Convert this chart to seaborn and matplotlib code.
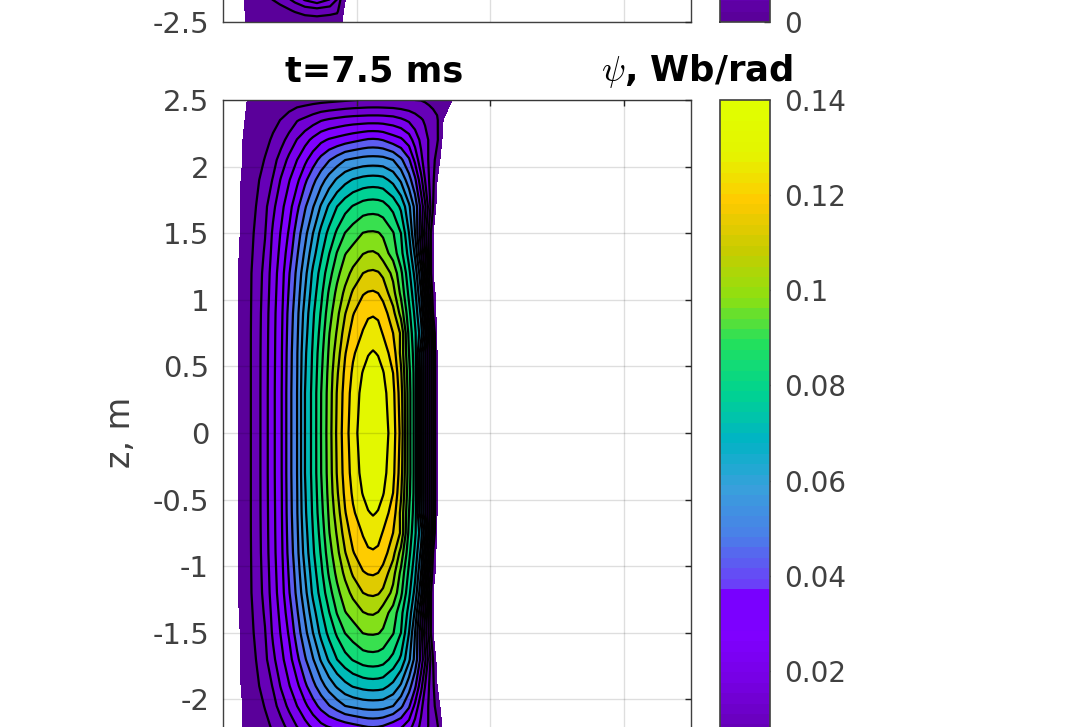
import numpy as np
import seaborn as sns
import matplotlib
matplotlib.use('Agg')
import matplotlib.pyplot as plt
from matplotlib.cm import ScalarMappable
from matplotlib.colors import ListedColormap, Normalize

# major radius (m) of the table columns
r_values = [0.075, 0.135, 0.195, 0.254, 0.314, 0.374, 0.434, 0.494, 0.554, 0.613, 0.673,
            0.733, 0.793, 0.853, 0.913, 0.972, 1.047, 1.085, 1.122, 1.160, 1.197, 1.272, 1.331, 1.391,
            1.436, 1.481, 1.511, 1.541, 1.571, 1.601, 1.646, 1.720, 1.795]
# z (m) of the table rows, the lower half is the mirror of this
z_values = [0.0, 0.3, 0.45, 0.6, 0.75, 0.9, 1.05, 1.2, 1.35, 1.5, 1.7, 1.9, 2.05, 2.2, 2.35, 2.5]

psi_half = [
    [-.003, .0016, .0059, .0108, .0182, .0263, .034, .0462, .056, .07, .0793, .091, .1015, .1134, .123, .1299, .137, .1389, .1395,
     .1389, .137, .1295, .1167, .094, .081, .0589, .0442, .0295, .0147, 0, -.004, -.008, -.01],
    [-.003, .0016, .0059, .0108, .0182, .0263, .034, .0462, .056, .07, .0793, .0908, .101, .1125, .122, .1287, .1354, .1374, .138,
     .1374, .1354, .128, .115, .094, .081, .0589, .0442, .0295, .0147, 0, -.004, -.008, -.01],
    [-.003, .0016, .0059, .0108, .0181, .0262, .0338, .0459, .0557, .0693, .0787, .0897, .1003, .111, .1206, .1272, .1335, .1354, .136,
     .1354, .1335, .126, .113, .093, .081, .0589, .0442, .0295, .0147, 0, -.004, -.008, -.01],
    [-.003, .0016, .0059, .0108, .018, .026, .0337, .0456, .0555, .0686, .0781, .0885, .099, .1086, .1185, .125, .13, .1326, .1335,
     .1326, .1298, .1228, .1102, .091, .080, .0582, .0436, .0291, .0145, 0, -.004, -.008, -.01],
    [-.003, .0016, .0059, .0107, .0178, .0259, .0334, .045, .0547, .0672, .077, .0866, .0975, .1058, .1153, .1219, .1265, .129, .1298,
     .1287, .1255, .119, .111, .089, .0783, .0662, .0508, .0315, .014, -.002, -.005, -.008, -.01],
    [-.003, .0016, .0058, .0106, .0175, .0257, .033, .0443, .0539, .0658, .0758, .0846, .095, .103, .1116, .1185, .1235, .1248, .1252,
     .1245, .1225, .1143, .1024, .086, .0753, .0613, .0443, .0257, .007, -.003, -.006, -.009, -.01],
    [-.003, .0016, .0057, .0104, .0168, .0251, .0323, .0428, .0523, .0632, .0736, .0822, .092, .0999, .1067, .1131, .1185, .1195, .1198,
     .119, .1165, .1077, .0963, .0823, .0718, .0561, .0385, .0198, .0035, -.0035, -.006, -.009, -.01],
    [-.003, .0016, .0056, .0102, .0162, .0245, .0316, .0414, .0508, .0607, .0715, .0796, .0881, .096, .102, .1069, .112, .1129, .1132,
     .1126, .1106, .103, .0927, .0788, .0677, .0508, .0327, .014, 0, -.004, -.006, -.009, -.01],
    [-.0035, .001, .005, .0095, .0149, .0233, .0301, .0386, .0481, .0572, .0672, .0757, .0836, .0914, .0976, .1007, .1047, .1055, .1057,
     .1047, .1015, .095, .0863, .0742, .0616, .042, .0286, .0133, 0, -.004, -.006, -.009, -.01],
    [-.004, .0005, .0045, .0088, .0136, .0222, .0286, .0359, .0455, .0537, .063, .072, .079, .0853, .0912, .0944, .0982, .0987, .0988,
     .0984, .097, .0915, .084, .07, .056, .0378, .0245, .0126, 0, -.004, -.006, -.009, -.01],
    [-.004, .0005, .0035, .0075, .0122, .0193, .0259, .0322, .0403, .0481, .0555, .0638, .0711, .077, .0813, .0845, .0872, .0878, .088,
     .0877, .0868, .0819, .0756, .0644, .0537, .0397, .0294, .0175, .007, -.003, -.006, -.009, -.01],
    [-.005, 0, .003, .0059, .0098, .0145, .0217, .0275, .0334, .0405, .0469, .0531, .059, .064, .0678, .0705, .0723, .0728, .073,
     .0728, .0722, .0679, .0618, .0518, .0434, .0303, .021, .014, .0084, 0, -.005, -.009, -.01],
    [-.005, -.0005, .002, .0047, .0073, .0116, .0168, .0228, .028, .0333, .039, .0441, .0485, .0522, .0559, .0572, .0586, .0589, .059,
     .0589, .0586, .056, .0504, .043, .0333, .0228, .0175, .0131, .0096, .0035, -.004, -.008, -.01],
    [-.006, -.0005, .0017, .0036, .0055, .0078, .0118, .0163, .0213, .0256, .0297, .0334, .0358, .0373, .0388, .0403, .042, .0428, .043,
     .0427, .0418, .0385, .0364, .0315, .025, .0194, .0163, .0134, .0108, .0083, -.002, -.006, -.01],
    [-.006, -.001, .001, .0024, .0038, .0055, .0072, .010, .0135, .0154, .0179, .0204, .0218, .0228, .0238, .0244, .0248, .025, .025,
     .025, .0248, .024, .0222, .0198, .0173, .0148, .0131, .0112, .0096, .0079, 0, -.005, -.01],
    [-.007, -.001, .0003, .0007, .0012, .0017, .0022, .0027, .0032, .0037, .0042, .0047, .0052, .0057, .0062, .0067, .0072, .0074, .0075,
     .0075, .0074, .0073, .0072, .0071, .007, .0068, .0062, .0055, .0048, .0041, .003, -.0003, -.005],
]

# bottom of the previous panel, only this bit is inside the picture
r_prev = [0.127, 0.172, 0.247, 0.426, 0.539, 0.613, 0.703, 0.800, 0.853, 0.890, 0.935]
z_prev = [-2.5, -2.417, -2.33]
psi_prev = [
    [-.003, .0004, .001, .002, .0026, .003, .0033, .0025, .0015, 0, -.003],
    [-.003, .0006, .002, .0045, .0075, .0095, .0105, .0095, .0085, .001, -.003],
    [-.003, .001, .003, .009, .0165, .022, .026, .021, .014, .004, -.003],
]

psi_levels = [0, .007, .014, .021, .028, .035, .042, .049, .056, .063, .07,
              .077, .084, .091, .098, .105, .112, .119, .126, .133, .14]

z_ticks = [-2.5, -2, -1.5, -1, -0.5, 0, 0.5, 1, 1.5, 2, 2.5]
z_labels = ['', '-2', '-1.5', '-1', '-0.5', '0', '0.5', '1', '1.5', '2', '2.5']
z_labels_prev = ['-2.5', '', '', '', '', '', '', '', '', '', '']
r_ticks = [1, 2, 3]
cbar_ticks = [0, .02, .04, .06, .08, .1, .12, .14]
cbar_labels = ['', '0.02', '0.04', '0.06', '0.08', '0.1', '0.12', '0.14']
cbar_labels_prev = ['0', '', '', '', '', '', '', '']

low_colors = ['#5a009a', '#6a00c0', '#7700e6', '#7f00ff', '#7800ff']
high_colors = ['#6a40f8', '#4a80e8', '#38a0dc', '#00b4c4', '#00d490', '#20e060',
               '#90e010', '#c8cc00', '#ffca00', '#e4f400', '#e0ff00']

W, H = 1078.0, 727.0
TEXT = '#404040'
BLACK = '#000000'


def draw_panel(ax, r, z, psi, band_colors, labels):
    ax.contourf(r, z, psi, levels=psi_levels, colors=band_colors)
    ax.contour(r, z, psi, levels=psi_levels[1:-1], colors=BLACK, linewidths=1.6)
    ax.set_xlim(0, 3.5)
    ax.set_ylim(-2.5, 2.5)
    ax.set_xticks(r_ticks)
    ax.set_xticklabels([])
    ax.set_yticks(z_ticks)
    ax.set_yticklabels(labels)
    ax.set_axisbelow(False)
    ax.grid(True, color=BLACK, alpha=0.13, linewidth=1.0)
    ax.tick_params(direction='in', length=4, width=1, color='#262626', top=True, right=True,
                   labelsize=21, labelcolor=TEXT, pad=10)
    for spine in ax.spines.values():
        spine.set_color(TEXT)
        spine.set_linewidth(1.0)


def draw_cbar(fig, cax, cmap, norm, labels):
    sm = ScalarMappable(norm=norm, cmap=cmap)
    cb = fig.colorbar(sm, cax=cax, ticks=cbar_ticks)
    cb.ax.set_yticklabels(labels)
    cb.ax.tick_params(direction='in', length=4, width=1, color='#262626',
                      labelsize=20, labelcolor=TEXT, pad=10)
    cb.outline.set_edgecolor(TEXT)
    cb.outline.set_linewidth(1.2)


def main():
    sns.set_theme(style='white', font='DejaVu Sans')

    cmap = ListedColormap(sns.blend_palette(low_colors, 17) + sns.blend_palette(high_colors, 47))
    norm = Normalize(0, 0.14)
    band_colors = [cmap(norm(v)) for v in psi_levels[:-1]]

    z_full = [-v for v in z_values[:0:-1]] + z_values
    psi_full = np.vstack([np.array(psi_half)[:0:-1], np.array(psi_half)])

    fig = plt.figure(figsize=(W / 100, H / 100), dpi=100)
    axes_h = 666 / H
    ax = fig.add_axes([223 / W, (H - 766) / H, 468 / W, axes_h])
    ax_prev = fig.add_axes([223 / W, (H - 22) / H, 468 / W, axes_h])
    cax = fig.add_axes([720 / W, (H - 766) / H, 50 / W, axes_h])
    cax_prev = fig.add_axes([720 / W, (H - 22) / H, 50 / W, axes_h])

    draw_panel(ax, r_values, z_full, psi_full, band_colors, z_labels)
    draw_panel(ax_prev, r_prev, z_prev, psi_prev, band_colors, z_labels_prev)
    draw_cbar(fig, cax, cmap, norm, cbar_labels)
    draw_cbar(fig, cax_prev, cmap, norm, cbar_labels_prev)

    fig.text(374 / W, (H - 71) / H, 't=7.5 ms', ha='center', va='center', color=BLACK,
             fontsize=25.3, fontweight='bold')
    fig.text(793 / W, (H - 71) / H, r'$\psi$, Wb/rad', ha='right', va='center', color=BLACK,
             fontsize=25.5, fontweight='bold', math_fontfamily='cm')
    fig.text(120 / W, (H - 432) / H, 'z, m', rotation=90, ha='center', va='center',
             color=TEXT, fontsize=24)

    fig.savefig('out.png', dpi=100)


if __name__ == '__main__':
    main()
